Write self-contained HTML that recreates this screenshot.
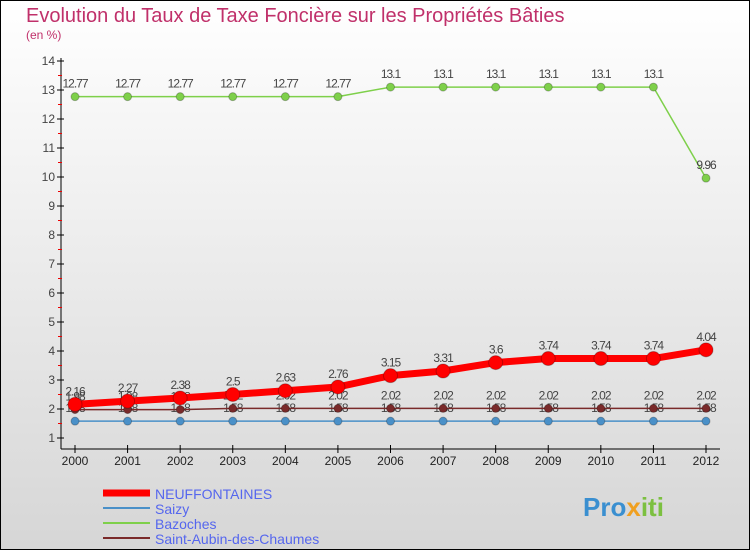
<!DOCTYPE html>
<html><head><meta charset="utf-8"><style>
body{margin:0}
svg text{font-family:"Liberation Sans",sans-serif}
</style></head><body>
<svg id="c" width="750" height="550" xmlns="http://www.w3.org/2000/svg">
<defs><linearGradient id="bg" x1="0" y1="0" x2="0" y2="1"><stop offset="0" stop-color="#ffffff"/><stop offset="1" stop-color="#d6d6d6"/></linearGradient></defs>
<rect x="0.5" y="0.5" width="749" height="549" fill="url(#bg)" stroke="#000"/>
<text x="26" y="22" font-size="20" fill="#c0306a">Evolution du Taux de Taxe Foncière sur les Propriétés Bâties</text>
<text x="26" y="39" font-size="12" fill="#c0306a">(en %)</text>
<g id="axes"></g><g id="series"></g>
<g>
<line x1="103" y1="493" x2="150" y2="493" stroke="#ff0000" stroke-width="7"/>
<text x="155" y="499" font-size="14" fill="#5566ee">NEUFFONTAINES</text>
<line x1="103" y1="508" x2="150" y2="508" stroke="#4a90c8" stroke-width="2"/>
<text x="155" y="514" font-size="14" fill="#5566ee">Saizy</text>
<line x1="103" y1="523" x2="150" y2="523" stroke="#7ed04a" stroke-width="2"/>
<text x="155" y="529" font-size="14" fill="#5566ee">Bazoches</text>
<line x1="103" y1="538" x2="150" y2="538" stroke="#7a2a2a" stroke-width="2"/>
<text x="155" y="544" font-size="14" fill="#5566ee">Saint-Aubin-des-Chaumes</text>
</g>
<text x="583" y="516" font-size="26" font-weight="bold" fill="#3a8fd0">Pro<tspan fill="#f0a020">x</tspan><tspan fill="#7cc040">iti</tspan></text>
</svg>
<script>
const years=[2000,2001,2002,2003,2004,2005,2006,2007,2008,2009,2010,2011,2012];
const neuf=[2.16,2.27,2.38,2.5,2.63,2.76,3.15,3.31,3.6,3.74,3.74,3.74,4.04];
const saizy=[1.58,1.58,1.58,1.58,1.58,1.58,1.58,1.58,1.58,1.58,1.58,1.58,1.58];
const bazoches=[12.77,12.77,12.77,12.77,12.77,12.77,13.1,13.1,13.1,13.1,13.1,13.1,9.96];
const aubin=[1.98,1.98,1.98,2.02,2.02,2.02,2.02,2.02,2.02,2.02,2.02,2.02,2.02];
const yTicks=[1,2,3,4,5,6,7,8,9,10,11,12,13,14];
const NS='http://www.w3.org/2000/svg';
const X=i=>75+i*(706-75)/(years.length-1);
const Y=v=>438-(v-1)*(438-61)/13;
function el(t,a,p){const e=document.createElementNS(NS,t);for(const k in a)e.setAttribute(k,a[k]);p.appendChild(e);return e;}
const ax=document.getElementById('axes'),sg=document.getElementById('series');
let l=el('line',{x1:61,y1:58,x2:61,y2:449,stroke:'#000'},ax);


l=el('line',{x1:61,y1:449,x2:720,y2:449,stroke:'#000'},ax);


yTicks.forEach(v=>{
  el('line',{x1:57,y1:Y(v),x2:64,y2:Y(v),stroke:'#000'},ax);
  if(v<14)el('line',{x1:58,y1:Y(v+0.5),x2:62,y2:Y(v+0.5),stroke:'#e00'},ax);
  const t=el('text',{x:55,y:Y(v)+4,'font-size':12,fill:'#444','text-anchor':'end'},ax);t.textContent=v;
  
  
});
years.forEach((y,i)=>{
  el('line',{x1:X(i),y1:445,x2:X(i),y2:453,stroke:'#000'},ax);
  const t=el('text',{x:X(i),y:465,'font-size':12,fill:'#222','text-anchor':'middle'},ax);t.textContent=y;
  
  
});
function fmt(v){return String(v).replace('.',(v>=10||v<1.6&&false)?'.':'.');}
function series(d,color,w,r,name,lbl){
  const g=el('g',{},sg);
  
  
  el('polyline',{points:d.map((v,i)=>X(i)+','+Y(v)).join(' '),fill:'none',stroke:color,'stroke-width':w,'stroke-linejoin':'round'},g);
  d.forEach((v,i)=>{
    const c=el('circle',{cx:X(i),cy:Y(v),r:r,fill:color,stroke:'rgba(0,0,0,0.25)'},g);
    
    
    if(lbl){const t=el('text',{x:X(i),y:Y(v)-9,'font-size':12,fill:'#444','text-anchor':'middle','letter-spacing':'-1'},g);t.textContent=v;}
  });
}
series(saizy,'#4a90c8',1.5,4,'series-saizy',true);
series(bazoches,'#7ed04a',1.5,4,'series-bazoches',true);
series(aubin,'#7a2a2a',1.5,4,'series-saint-aubin',true);
series(neuf,'#ff0000',7,7,'series-neuffontaines',true);
</script>
</body></html>
